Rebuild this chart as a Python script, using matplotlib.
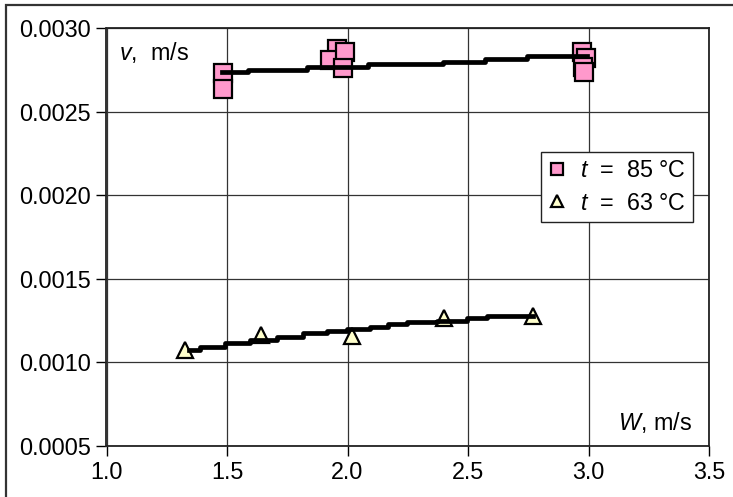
import matplotlib
matplotlib.use("Agg")
import matplotlib.pyplot as plt
from matplotlib.patches import Rectangle

plt.rcParams['font.family'] = ['Liberation Sans', 'DejaVu Sans']
plt.rcParams['mathtext.fontset'] = 'custom'
plt.rcParams['mathtext.it'] = 'Liberation Sans:italic'
plt.rcParams['mathtext.rm'] = 'Liberation Sans'

# measured points, t = 85 C
w85 = [1.483, 1.483, 1.955, 1.929, 1.99, 1.98, 2.973, 2.99, 2.977, 2.98]
v85 = [0.002735, 0.002637, 0.002879, 0.002812, 0.00286, 0.00276,
       0.002856, 0.00282, 0.00277, 0.00274]
# trend line, t = 85 C
w85_fit = [1.478, 1.588, 1.831, 2.085, 2.396, 2.570, 2.745, 2.994]
v85_fit = [0.0027365, 0.0027503, 0.0027665, 0.0027862, 0.0027982,
           0.0028144, 0.0028323, 0.0028323]

# measured points, t = 63 C
w63 = [1.326, 1.64, 2.02, 2.40, 2.771]
v63 = [0.001074, 0.001163, 0.00116, 0.001265, 0.001277]
# trend line, t = 63 C
w63_fit = [1.344, 1.388, 1.492, 1.595, 1.706, 1.815, 1.914, 1.997,
           2.093, 2.168, 2.246, 2.370, 2.495, 2.578, 2.771]
v63_fit = [0.0010737, 0.0010898, 0.0011174, 0.0011335, 0.0011533,
           0.0011737, 0.0011892, 0.0011976, 0.0012132, 0.0012293,
           0.0012395, 0.0012491, 0.0012635, 0.0012772, 0.0012772]

xticks = [1.0, 1.5, 2.0, 2.5, 3.0, 3.5]
yticks = [0.0005, 0.0010, 0.0015, 0.0020, 0.0025, 0.0030]

fs = 16.8

fig = plt.figure(figsize=(7.33, 4.97), dpi=100)
ax = fig.add_axes([106.5/733, 1-445.7/497, (709-106.5)/733, (445.7-28.3)/497])

# outer frame
fig.patches.append(Rectangle((6/733, -0.2), 1.2, 1.2 - 5/497, transform=fig.transFigure,
                             fill=False, edgecolor='#333333', linewidth=1.6))

ax.plot(w85, v85, 's', ms=12.5, mfc='#ff99cc', mec='black', mew=1.6,
        label=r'$t$  =  85 °C', zorder=3)
ax.plot(w63, v63, '^', ms=11.5, mfc='#ffffcc', mec='black', mew=1.6,
        label=r'$t$  =  63 °C', zorder=3)
ax.plot(w85_fit, v85_fit, '-', color='black', lw=3.4, drawstyle='steps-post', zorder=4)
ax.plot(w63_fit, v63_fit, '-', color='black', lw=3.4, drawstyle='steps-post', zorder=4)

ax.set_xlim(1.0, 3.5)
ax.set_ylim(0.0005, 0.0030)
ax.set_xticks(xticks)
ax.set_yticks(yticks)
ax.set_xticklabels(['%.1f' % x for x in xticks])
ax.set_yticklabels(['%.4f' % y for y in yticks])
ax.grid(True, color='#333333', lw=0.9)
ax.set_axisbelow(True)
ax.tick_params(direction='out', length=7, width=1, labelsize=fs, pad=4)
for s in ax.spines.values():
    s.set_color('#222222')
    s.set_linewidth(1.3)

ax.text(0.02, 0.943, r'$v$,  m/s', transform=ax.transAxes, fontsize=fs,
        ha='left', va='center')
ax.text(0.972, 0.055, r'$W$, m/s', transform=ax.transAxes, fontsize=fs,
        ha='right', va='center')

leg = ax.legend(loc='upper left', bbox_to_anchor=((540.7-106.5)/602.5, (445.7-151.7)/417.4),
                fontsize=fs, frameon=True, fancybox=False, framealpha=1,
                edgecolor='#222222', markerscale=0.7, handlelength=0.8,
                handletextpad=0.6, borderpad=0.3, labelspacing=0.42, borderaxespad=0)
leg.get_frame().set_linewidth(1.0)

fig.savefig('out.png', dpi=100)
